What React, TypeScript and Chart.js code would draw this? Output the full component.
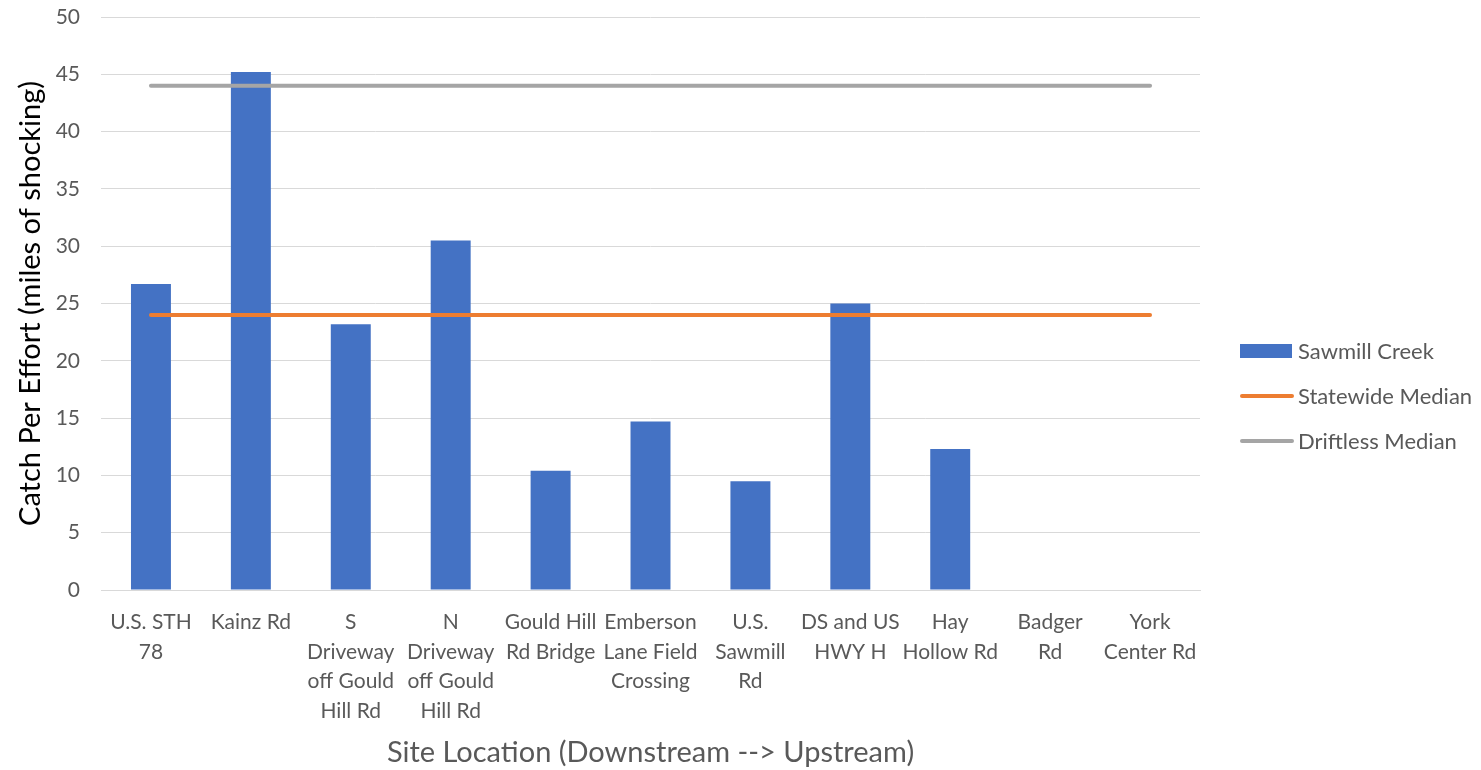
import React, { useEffect, useRef } from "react";
import { Chart, registerables } from "chart.js";

Chart.register(...registerables);

const categories: string[][] = [
  ["U.S. STH", "78"],
  ["Kainz Rd"],
  ["S", "Driveway", "off Gould", "Hill Rd"],
  ["N", "Driveway", "off Gould", "Hill Rd"],
  ["Gould Hill", "Rd Bridge"],
  ["Emberson", "Lane Field", "Crossing"],
  ["U.S.", "Sawmill", "Rd"],
  ["DS and US", "HWY H"],
  ["Hay", "Hollow Rd"],
  ["Badger", "Rd"],
  ["York", "Center Rd"],
];

const sawmillCreek: number[] = [26.7, 45.2, 23.2, 30.5, 10.4, 14.7, 9.5, 25.0, 12.3, 0, 0];
const statewideMedian: number[] = [24, 24, 24, 24, 24, 24, 24, 24, 24, 24, 24];
const driftlessMedian: number[] = [44, 44, 44, 44, 44, 44, 44, 44, 44, 44, 44];

const yTitle = "Catch Per Effort (miles of shocking)";
const xTitle = "Site Location (Downstream --> Upstream)";

const FONT = "Lato, 'Open Sans', sans-serif";
const TEXT = "#595959";
const GRID = "#D9D9D9";

const customLegend = {
  id: "customLegend",
  afterDraw(chart: any) {
    const ctx = chart.ctx;
    const x0 = 1240;
    const boxW = 54;
    const startY = 351;
    const step = 45;
    ctx.save();
    ctx.font = `22px ${FONT}`;
    ctx.textBaseline = "middle";
    ctx.textAlign = "left";
    chart.data.datasets.forEach((ds: any, i: number) => {
      const y = startY + i * step;
      if (ds.type === "line") {
        ctx.strokeStyle = ds.borderColor;
        ctx.lineWidth = 4;
        ctx.lineCap = "round";
        ctx.beginPath();
        ctx.moveTo(x0 + 2, y);
        ctx.lineTo(x0 + boxW - 2, y);
        ctx.stroke();
      } else {
        ctx.fillStyle = ds.backgroundColor;
        ctx.fillRect(x0, y - 7, boxW - 2, 14);
      }
      ctx.fillStyle = TEXT;
      ctx.fillText(ds.label, x0 + boxW + 4, y + 1);
    });
    ctx.restore();
  },
};

export default function App() {
  const ref = useRef<HTMLCanvasElement | null>(null);

  useEffect(() => {
    if (!ref.current) return;
    const chart = new Chart(ref.current, {
      type: "bar",
      data: {
        labels: categories,
        datasets: [
          {
            type: "bar",
            label: "Sawmill Creek",
            data: sawmillCreek,
            backgroundColor: "#4472C4",
            borderWidth: 0,
            barPercentage: 0.4,
            categoryPercentage: 1,
            order: 3,
          } as any,
          {
            type: "line",
            label: "Statewide Median",
            data: statewideMedian,
            borderColor: "#ED7D31",
            backgroundColor: "#ED7D31",
            borderWidth: 4,
            pointRadius: 0,
            borderCapStyle: "round",
            order: 2,
          } as any,
          {
            type: "line",
            label: "Driftless Median",
            data: driftlessMedian,
            borderColor: "#A5A5A5",
            backgroundColor: "#A5A5A5",
            borderWidth: 4,
            pointRadius: 0,
            borderCapStyle: "round",
            order: 1,
          } as any,
        ],
      },
      options: {
        responsive: false,
        animation: false,
        devicePixelRatio: 1,
        layout: { padding: { left: 9, right: 281, top: 17, bottom: 0 } },
        plugins: {
          legend: { display: false },
          tooltip: { enabled: false },
        },
        scales: {
          x: {
            grid: { display: false },
            border: { display: true, color: GRID, width: 1 },
            ticks: {
              color: TEXT,
              font: { family: FONT, size: 21, lineHeight: 1.4 },
              padding: 10,
              maxRotation: 0,
              autoSkip: false,
            },
            title: {
              display: true,
              text: xTitle,
              color: TEXT,
              font: { family: FONT, size: 29 },
              padding: { top: 0, bottom: 0 },
            },
            afterFit: (scale: any) => {
              scale.height = 180;
            },
          },
          y: {
            min: 0,
            max: 50,
            grid: {
              color: GRID,
              lineWidth: 1,
              drawTicks: true,
              tickLength: 21,
              tickColor: "rgba(0,0,0,0)",
            },
            border: { display: false },
            ticks: {
              stepSize: 5,
              color: TEXT,
              font: { family: FONT, size: 21 },
              padding: 0,
            },
            title: {
              display: true,
              text: yTitle,
              color: "#000000",
              font: { family: FONT, size: 29 },
              padding: { top: 4, bottom: 4 },
            },
            afterFit: (scale: any) => {
              scale.width = 92;
            },
          },
        },
      },
      plugins: [customLegend],
    });
    return () => chart.destroy();
  }, []);

  return (
    <div style={{ position: "fixed", left: 0, top: 0, width: 1481, height: 770, background: "#fff" }}>
      <canvas ref={ref} width={1481} height={770} style={{ display: "block" }} />
    </div>
  );
}
